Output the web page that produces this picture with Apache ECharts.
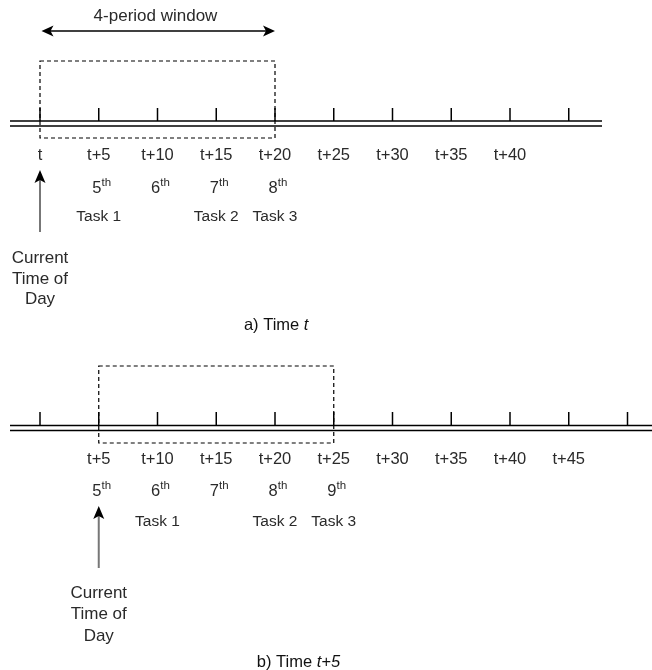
<!DOCTYPE html>
<html><head><meta charset="utf-8">
<script src="https://cdn.jsdelivr.net/npm/echarts@6/dist/echarts.min.js"></script>
<style>html,body{margin:0;padding:0;background:#fff}#c{width:652px;height:670px}</style>
</head><body><div id="c"></div>
<script>
// ---------- data ----------
const ticksA = [0, 5, 10, 15, 20, 25, 30, 35, 40, 45];
const ticksB = [0, 5, 10, 15, 20, 25, 30, 35, 40, 45, 50];
const timeLabelsA = ['t', 't+5', 't+10', 't+15', 't+20', 't+25', 't+30', 't+35', 't+40'];
const timeValuesA = [0, 5, 10, 15, 20, 25, 30, 35, 40];
const timeLabelsB = ['t+5', 't+10', 't+15', 't+20', 't+25', 't+30', 't+35', 't+40', 't+45'];
const timeValuesB = [5, 10, 15, 20, 25, 30, 35, 40, 45];
const ordinalNumsA = ['5', '6', '7', '8'];
const ordinalValuesA = [5, 10, 15, 20];
const ordinalNumsB = ['5', '6', '7', '8', '9'];
const ordinalValuesB = [5, 10, 15, 20, 25];
const ordinalSuffix = 'th';
const taskLabelsA = ['Task 1', 'Task 2', 'Task 3'];
const taskValuesA = [5, 15, 20];
const taskLabelsB = ['Task 1', 'Task 2', 'Task 3'];
const taskValuesB = [10, 20, 25];
const windowA = [0, 20];
const windowB = [5, 25];
const currentA = 0;
const currentB = 5;
const windowText = '4-period window';
const currentText = ['Current', 'Time of', 'Day'];
const captionA = ['a) Time ', 't'];
const captionB = ['b) Time ', 't+5'];

// ---------- layout (positions only) ----------
const FONT = '"Liberation Sans", Arial, Helvetica, sans-serif';
const TEXT = '#2a2a2a';
const LA = {lineStart: -2.553, lineEnd: 47.83, line1: 121, line2: 126, tickTop: 108,
  boxTop: 61, boxBottom: 138, labelY: 155, ordY: 188, taskY: 217,
  arrowTop: 170, arrowBottom: 232, currentY: [258, 279, 299], captionY: 325, captionX: 20.1,
  winArrowY: 31, winTextY: 16};
const LB = {lineStart: -2.553, lineEnd: 52.2, line1: 425.5, line2: 430.5, tickTop: 412,
  boxTop: 366, boxBottom: 443, labelY: 459, ordY: 491, taskY: 522,
  arrowTop: 506, arrowBottom: 568, currentY: [593, 614, 636], captionY: 662, captionX: 22.0};

function cs(data, render) {
  return {type: 'custom', coordinateSystem: 'cartesian2d', data: data, renderItem: render,
    silent: true, clip: false, animation: false, z: 2};
}
function txt(p, text, opts) {
  return Object.assign({type: 'text', x: p[0], y: p[1], style: Object.assign({
    text: text, fill: TEXT, fontSize: 16.5, fontFamily: FONT, align: 'center', verticalAlign: 'middle'
  }, opts || {})});
}

function panelSeries(L, ticks, tlab, tval, onum, oval, tasks, tasksV, win, cur, caption) {
  const s = [];
  // double timeline
  s.push(cs([[L.lineStart, L.line1], [L.lineEnd, L.line1]], function (params, api) {
    if (params.dataIndex !== 0) return null;
    const a1 = api.coord([L.lineStart, L.line1]), b1 = api.coord([L.lineEnd, L.line1]);
    const a2 = api.coord([L.lineStart, L.line2]), b2 = api.coord([L.lineEnd, L.line2]);
    return {type: 'group', children: [
      {type: 'line', shape: {x1: a1[0], y1: a1[1], x2: b1[0], y2: b1[1]}, style: {stroke: '#000', lineWidth: 1.5}},
      {type: 'line', shape: {x1: a2[0], y1: a2[1], x2: b2[0], y2: b2[1]}, style: {stroke: '#000', lineWidth: 1.5}}
    ]};
  }));
  // ticks
  s.push(cs(ticks.map(v => [v, L.tickTop]), function (params, api) {
    const v = api.value(0);
    const p0 = api.coord([v, L.tickTop]), p1 = api.coord([v, L.line1]);
    return {type: 'line', shape: {x1: p0[0], y1: p0[1], x2: p1[0], y2: p1[1]}, style: {stroke: '#000', lineWidth: 1.5}};
  }));
  // time labels
  s.push(cs(tval.map(v => [v, L.labelY]), function (params, api) {
    return txt(api.coord([api.value(0), L.labelY]), tlab[params.dataIndex]);
  }));
  // ordinals
  s.push(cs(oval.map(v => [v, L.ordY]), function (params, api) {
    const p = api.coord([api.value(0), L.ordY]);
    return txt([p[0] + 3, p[1]], '{n|' + onum[params.dataIndex] + '}{s|' + ordinalSuffix + '}', {
      rich: {
        n: {fontSize: 16.5, fontFamily: FONT, fill: TEXT, lineHeight: 22},
        s: {fontSize: 11.5, fontFamily: FONT, fill: TEXT, lineHeight: 12, verticalAlign: 'top'}
      }
    });
  }));
  // tasks
  s.push(cs(tasksV.map(v => [v, L.taskY]), function (params, api) {
    return txt(api.coord([api.value(0), L.taskY]), tasks[params.dataIndex], {fontSize: 15.5});
  }));
  // dashed window box
  s.push(cs([[win[0], L.boxTop], [win[1], L.boxBottom]], function (params, api) {
    if (params.dataIndex !== 0) return null;
    const a = api.coord([win[0], L.boxTop]), b = api.coord([win[1], L.boxBottom]);
    return {type: 'rect', shape: {x: a[0], y: a[1], width: b[0] - a[0], height: b[1] - a[1]},
      style: {fill: 'none', stroke: '#000', lineWidth: 1.2, lineDash: [4, 3]}};
  }));
  // current time arrow + text
  s.push(cs([[cur, L.arrowTop]], function (params, api) {
    const x = api.value(0);
    const t = api.coord([x, L.arrowTop]), b = api.coord([x, L.arrowBottom]);
    const kids = [
      {type: 'line', shape: {x1: t[0], y1: t[1] + 10, x2: b[0], y2: b[1]}, style: {stroke: '#777', lineWidth: 2}},
      {type: 'polygon', shape: {points: [[t[0], t[1]], [t[0] - 5.5, t[1] + 13], [t[0], t[1] + 10], [t[0] + 5.5, t[1] + 13]]}, style: {fill: '#000'}}
    ];
    currentText.forEach(function (line, i) {
      kids.push(txt(api.coord([x, L.currentY[i]]), line, {fontSize: 17}));
    });
    return {type: 'group', children: kids};
  }));
  // caption
  s.push(cs([[L.captionX, L.captionY]], function (params, api) {
    const p = api.coord([L.captionX, L.captionY]);
    return txt(p, '{r|' + caption[0] + '}{i|' + caption[1] + '}', {
      rich: {
        r: {fontSize: 16.5, fontFamily: FONT, fill: '#111'},
        i: {fontSize: 16.5, fontFamily: FONT, fill: '#111', fontStyle: 'italic'}
      }
    });
  }));
  return s;
}

const series = [].concat(
  panelSeries(LA, ticksA, timeLabelsA, timeValuesA, ordinalNumsA, ordinalValuesA, taskLabelsA, taskValuesA, windowA, currentA, captionA),
  panelSeries(LB, ticksB, timeLabelsB, timeValuesB, ordinalNumsB, ordinalValuesB, taskLabelsB, taskValuesB, windowB, currentB, captionB)
);
// 4-period window arrow (panel a)
series.push(cs([[windowA[0], LA.winArrowY], [windowA[1], LA.winArrowY]], function (params, api) {
  if (params.dataIndex !== 0) return null;
  const a = api.coord([windowA[0], LA.winArrowY]), b = api.coord([windowA[1], LA.winArrowY]);
  const l = a[0] + 1.5, r = b[0], y = a[1];
  const mid = api.coord([(windowA[0] + windowA[1]) / 2, LA.winTextY]);
  return {type: 'group', children: [
    {type: 'line', shape: {x1: l + 8, y1: y, x2: r - 8, y2: y}, style: {stroke: '#000', lineWidth: 1.6}},
    {type: 'polygon', shape: {points: [[l, y], [l + 12, y - 5.5], [l + 9, y], [l + 12, y + 5.5]]}, style: {fill: '#000'}},
    {type: 'polygon', shape: {points: [[r, y], [r - 12, y - 5.5], [r - 9, y], [r - 12, y + 5.5]]}, style: {fill: '#000'}},
    txt([mid[0] - 2, mid[1]], windowText, {fontSize: 17})
  ]};
}));

const chart = echarts.init(document.getElementById('c'), null, {renderer: 'canvas'});
chart.setOption({
  animation: false,
  backgroundColor: '#fff',
  grid: {left: 0, right: 0, top: 0, bottom: 0},
  xAxis: {type: 'value', min: -40 / 11.75, max: 612 / 11.75, show: false, splitLine: {show: false}},
  yAxis: {type: 'value', min: 0, max: 670, inverse: true, show: false, splitLine: {show: false}},
  series: series
});
</script>
</body></html>
